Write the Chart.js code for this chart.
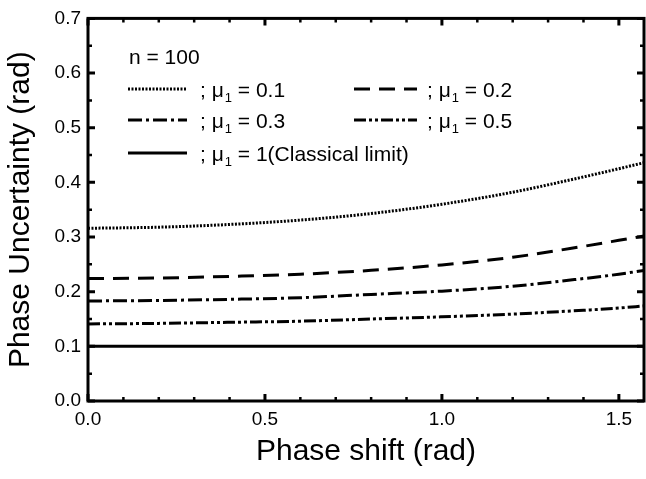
<!DOCTYPE html>
<html>
<head>
<meta charset="utf-8">
<script src="https://cdn.jsdelivr.net/npm/chart.js@4/dist/chart.umd.min.js"></script>
<style>
  html, body { margin: 0; padding: 0; background: #fff; }
  #wrap { width: 646px; height: 479px; }
</style>
</head>
<body>
<div id="wrap"><canvas id="chart"></canvas></div>
<script>
// phase shift (rad); last point is the right edge (pi/2)
const phaseShift = [0, 0.2, 0.4, 0.6, 0.8, 1.0, 1.2, 1.4, 1.5, 1.571];

// phase uncertainty (rad) for each mu_1, n = 100
const mu01 = [0.316, 0.318, 0.323, 0.331, 0.343, 0.360, 0.382, 0.410, 0.425, 0.436];
const mu02 = [0.224, 0.225, 0.228, 0.232, 0.239, 0.249, 0.263, 0.283, 0.294, 0.302];
const mu03 = [0.183, 0.184, 0.186, 0.189, 0.195, 0.201, 0.210, 0.224, 0.232, 0.239];
const mu05 = [0.141, 0.142, 0.144, 0.146, 0.150, 0.154, 0.159, 0.166, 0.170, 0.174];
const mu1 = [0.1, 0.1, 0.1, 0.1, 0.1, 0.1, 0.1, 0.1, 0.1, 0.1];

const muLabels = ['0.1', '0.2', '0.3', '0.5', '1(Classical limit)'];
const xTicks = [0, 0.5, 1.0, 1.5];
const yTicks = [0, 0.1, 0.2, 0.3, 0.4, 0.5, 0.6, 0.7];

const FONT = '"Liberation Sans", Arial, sans-serif';

function pts(ys) {
    return ys.map((v, i) => ({ x: phaseShift[i], y: v }));
}

const styles = [
    { data: mu01, dash: [2, 1.5] },
    { data: mu02, dash: [16, 9] },
    { data: mu03, dash: [14, 4, 3, 4] },
    { data: mu05, dash: [12, 3, 3, 3, 3, 3] },
    { data: mu1, dash: [] }
];

const datasets = styles.map((s, i) => ({
    label: muLabels[i],
    data: pts(s.data),
    borderColor: '#000',
    borderWidth: 3,
    borderDash: s.dash,
    pointRadius: 0,
    fill: false,
    cubicInterpolationMode: 'monotone'
}));

// frame + inward ticks on all four sides
const frame = {
    id: 'frame',
    afterDatasetsDraw(chart) {
        const { ctx, chartArea: a, scales: { x, y } } = chart;
        ctx.save();
        ctx.strokeStyle = '#000';
        ctx.lineCap = 'butt';

        for (let k = 0; k <= 15; k++) {
            const px = x.getPixelForValue(k / 10);
            const major = k % 5 === 0;
            const len = major ? 7 : 4;
            ctx.lineWidth = major ? 3 : 2.5;
            ctx.beginPath();
            ctx.moveTo(px, a.bottom); ctx.lineTo(px, a.bottom - len);
            ctx.moveTo(px, a.top); ctx.lineTo(px, a.top + len);
            ctx.stroke();
        }
        for (let k = 0; k <= 14; k++) {
            const py = y.getPixelForValue(k / 20);
            const major = k % 2 === 0;
            const len = major ? 7 : 4;
            ctx.lineWidth = major ? 3 : 2.5;
            ctx.beginPath();
            ctx.moveTo(a.left, py); ctx.lineTo(a.left + len, py);
            ctx.moveTo(a.right, py); ctx.lineTo(a.right - len, py);
            ctx.stroke();
        }

        ctx.lineWidth = 3;
        ctx.strokeRect(a.left, a.top, a.right - a.left, a.bottom - a.top);
        ctx.restore();
    }
};

// legend block inside the plot
const legendSpots = [
    { x0: 128, x1: 187, tx: 200, y: 89 },
    { x0: 354, x1: 417, tx: 427, y: 89 },
    { x0: 128, x1: 187, tx: 200, y: 120 },
    { x0: 354, x1: 417, tx: 427, y: 120 },
    { x0: 128, x1: 187, tx: 200, y: 153 }
];

const muLegend = {
    id: 'muLegend',
    afterDraw(chart) {
        const ctx = chart.ctx;
        ctx.save();
        ctx.fillStyle = '#000';
        ctx.textBaseline = 'alphabetic';
        ctx.font = '21px ' + FONT;
        ctx.fillText('n = 100', 129, 64);

        chart.data.datasets.forEach((ds, i) => {
            const s = legendSpots[i];
            ctx.strokeStyle = '#000';
            ctx.lineWidth = 3;
            ctx.setLineDash(ds.borderDash);
            ctx.beginPath();
            ctx.moveTo(s.x0, s.y);
            ctx.lineTo(s.x1, s.y);
            ctx.stroke();
            ctx.setLineDash([]);

            const base = s.y + 8;
            let tx = s.tx;
            ctx.font = '21px ' + FONT;
            ctx.fillText('; \u03bc', tx, base);
            tx += ctx.measureText('; \u03bc').width + 1;
            ctx.font = '13px ' + FONT;
            ctx.fillText('1', tx, base + 5);
            tx += ctx.measureText('1').width;
            ctx.font = '21px ' + FONT;
            ctx.fillText(' = ' + ds.label, tx, base);
        });
        ctx.restore();
    }
};

new Chart(document.getElementById('chart'), {
    type: 'line',
    data: { datasets },
    options: {
        responsive: true,
        maintainAspectRatio: false,
        animation: false,
        layout: { padding: { top: 13, right: 2, left: 0, bottom: 0 } },
        plugins: {
            legend: { display: false },
            tooltip: { enabled: false }
        },
        scales: {
            x: {
                type: 'linear',
                min: 0,
                max: 1.571,
                afterFit(s) { s.height = 78; },
                afterBuildTicks(s) { s.ticks = xTicks.map(v => ({ value: v })); },
                grid: { display: false, drawTicks: false },
                border: { display: false },
                ticks: {
                    color: '#000',
                    font: { family: FONT, size: 19 },
                    padding: 7,
                    maxRotation: 0,
                    callback: v => v.toFixed(1)
                },
                title: {
                    display: true,
                    text: 'Phase shift (rad)',
                    color: '#000',
                    font: { family: FONT, size: 30 },
                    padding: { top: 0, bottom: 9 }
                }
            },
            y: {
                type: 'linear',
                min: 0,
                max: 0.7,
                afterFit(s) { s.width = 88; },
                afterBuildTicks(s) { s.ticks = yTicks.map(v => ({ value: v })); },
                grid: { display: false, drawTicks: false },
                border: { display: false },
                ticks: {
                    color: '#000',
                    font: { family: FONT, size: 19 },
                    padding: 7,
                    callback: v => v.toFixed(1)
                },
                title: {
                    display: true,
                    text: 'Phase Uncertainty (rad)',
                    color: '#000',
                    font: { family: FONT, size: 30 },
                    padding: { top: 3, bottom: 0 }
                }
            }
        }
    },
    plugins: [frame, muLegend]
});
</script>
</body>
</html>
